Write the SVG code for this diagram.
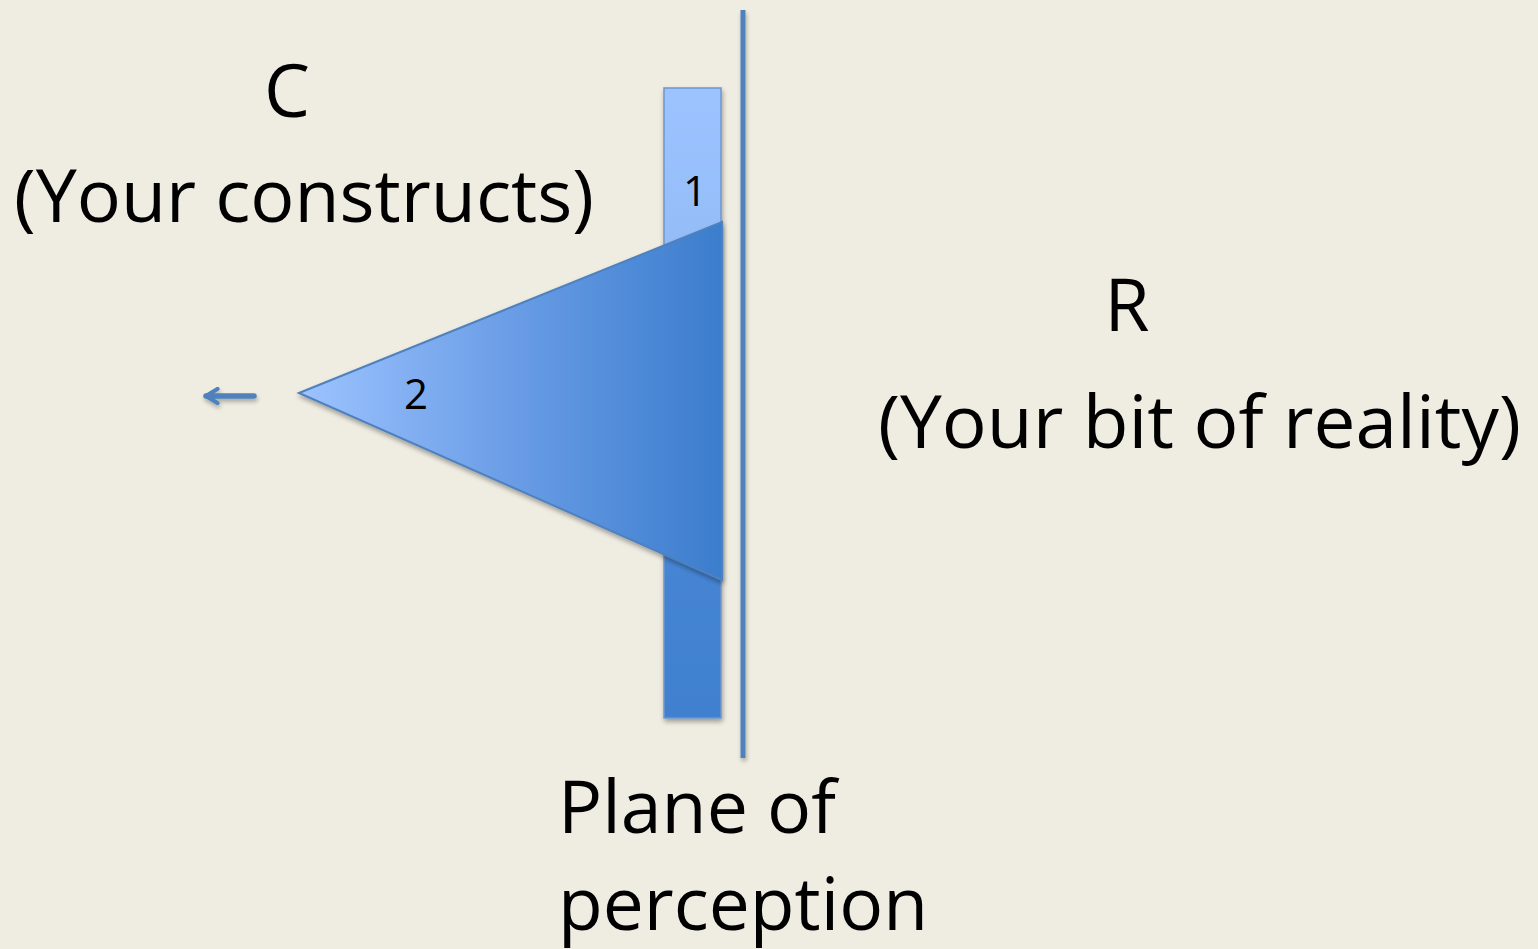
<svg xmlns="http://www.w3.org/2000/svg" width="1538" height="949" viewBox="0 0 1538 949">
<defs>
<linearGradient id="gBar" x1="0" y1="0" x2="0" y2="1">
<stop offset="0" stop-color="#9dc3ff"/>
<stop offset="0.25" stop-color="#94bdf8"/>
<stop offset="0.5" stop-color="#4d8ad8"/>
<stop offset="1" stop-color="#3f80cf"/>
</linearGradient>
<linearGradient id="gTri" x1="0" y1="0" x2="1" y2="0">
<stop offset="0" stop-color="#9dc3ff"/>
<stop offset="0.5" stop-color="#6a9de6"/>
<stop offset="1" stop-color="#3b7dcd"/>
</linearGradient>
<filter id="sh" x="-10%" y="-10%" width="130%" height="130%">
<feGaussianBlur in="SourceAlpha" stdDeviation="2.5"/>
<feOffset dx="1" dy="3" result="b"/>
<feComponentTransfer><feFuncA type="linear" slope="0.35"/></feComponentTransfer>
<feMerge><feMergeNode/><feMergeNode in="SourceGraphic"/></feMerge>
</filter>
<filter id="shU" filterUnits="userSpaceOnUse" x="0" y="0" width="1538" height="949">
<feGaussianBlur in="SourceAlpha" stdDeviation="2"/>
<feOffset dx="1" dy="3" result="b"/>
<feComponentTransfer><feFuncA type="linear" slope="0.3"/></feComponentTransfer>
<feMerge><feMergeNode/><feMergeNode in="SourceGraphic"/></feMerge>
</filter>
<marker id="ah" viewBox="0 0 10 10" refX="8.5" refY="5" markerWidth="3.2" markerHeight="3.2" orient="auto">
<path d="M2,1 L8.5,5 L2,9" fill="none" stroke="#4f81bd" stroke-width="2.4" stroke-linecap="round" stroke-linejoin="round"/>
</marker>
</defs>
<style>
.t{font-family:"Open Sans","Noto Sans",sans-serif;fill:#000;}
.big{font-size:73px;}
.small{font-size:42px;}
</style>
<rect width="1538" height="949" fill="#efece2"/>
<g id="bar" filter="url(#sh)">
<rect x="664" y="88" width="57" height="630" fill="url(#gBar)" stroke="#6f96cc" stroke-width="1.5"/>
</g>
<g id="label1"><text class="t small" x="695" y="206" text-anchor="middle">1</text></g>
<g id="triangle" filter="url(#sh)">
<polygon points="299,393 722,222 722,580" fill="url(#gTri)" stroke="#4f81bd" stroke-width="2"/>
</g>
<g id="label2"><text class="t small" x="416" y="409" text-anchor="middle">2</text></g>
<g id="plane" filter="url(#shU)">
<rect x="740.5" y="10" width="5" height="748" fill="#4f81bd"/>
</g>
<g id="connectors" filter="url(#shU)">
<line x1="254" y1="396" x2="206" y2="396" stroke="#4f81bd" stroke-width="5.5" stroke-linecap="round" marker-end="url(#ah)"/>
</g>
<g id="C">
<text class="t big" x="287" y="117" text-anchor="middle">C</text>
<text class="t big" x="14" y="222" textLength="580" lengthAdjust="spacingAndGlyphs">(Your constructs)</text>
</g>
<g id="R">
<text class="t big" x="1127" y="331" text-anchor="middle">R</text>
<text class="t big" x="878" y="448" textLength="643" lengthAdjust="spacingAndGlyphs">(Your bit of reality)</text>
</g>
<g id="planeLabel">
<text class="t big" x="558" y="833" textLength="278" lengthAdjust="spacingAndGlyphs">Plane of</text>
<text class="t big" x="558" y="930" textLength="370" lengthAdjust="spacingAndGlyphs">perception</text>
</g>
</svg>
